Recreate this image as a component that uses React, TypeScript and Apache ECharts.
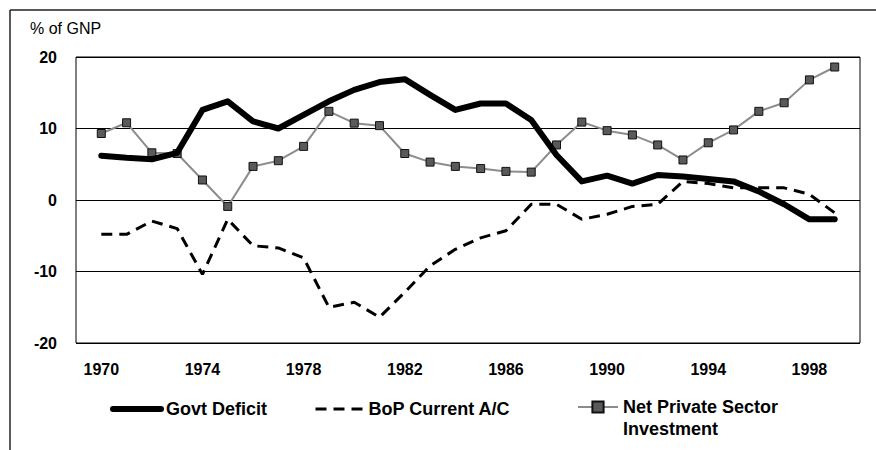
import React, { useEffect, useRef } from "react";
import * as echarts from "echarts";

const years = [
  1970, 1971, 1972, 1973, 1974, 1975, 1976, 1977, 1978, 1979,
  1980, 1981, 1982, 1983, 1984, 1985, 1986, 1987, 1988, 1989,
  1990, 1991, 1992, 1993, 1994, 1995, 1996, 1997, 1998, 1999,
];

const govtDeficit = [
  6.2, 5.9, 5.7, 6.6, 12.6, 13.8, 11.0, 10.0, 11.9, 13.8,
  15.4, 16.5, 16.9, 14.7, 12.6, 13.5, 13.5, 11.2, 6.3, 2.6,
  3.4, 2.3, 3.5, 3.3, 2.95, 2.6, 1.2, -0.6, -2.7, -2.7,
];

const bopCurrent = [
  -4.8, -4.8, -2.95, -4.0, -10.4, -2.7, -6.4, -6.7, -8.1, -15.0,
  -14.3, -16.4, -12.9, -9.2, -6.9, -5.3, -4.3, -0.6, -0.6, -2.7,
  -2.0, -0.9, -0.6, 2.6, 2.3, 1.7, 1.7, 1.7, 0.8, -1.8,
];

const netPrivateInvestment = [
  9.3, 10.8, 6.6, 6.5, 2.8, -0.9, 4.7, 5.5, 7.5, 12.4,
  10.75, 10.4, 6.5, 5.3, 4.7, 4.4, 4.0, 3.9, 7.7, 10.9,
  9.7, 9.1, 7.7, 5.6, 8.0, 9.8, 12.4, 13.6, 16.8, 18.6,
];

const yTicks = [-20, -10, 0, 10, 20];
const FONT = "'Liberation Sans', Arial, Helvetica, sans-serif";

const pairs = (vals: number[]) => years.map((y, i) => [y, vals[i]]);

export default function App() {
  const ref = useRef<HTMLDivElement>(null);
  useEffect(() => {
    if (!ref.current) return;
    const chart = echarts.init(ref.current, undefined, { renderer: "svg" });
    const legendText = { fontFamily: FONT, fontSize: 18, fontWeight: "bold", color: "#000" };
    chart.setOption({
      animation: false,
      backgroundColor: "#ffffff",
      textStyle: { fontFamily: FONT, color: "#000" },
      title: {
        text: "% of GNP",
        left: 30,
        top: 20,
        padding: 0,
        textStyle: { fontFamily: FONT, fontSize: 16, fontWeight: "normal", color: "#000" },
      },
      grid: {
        left: 76,
        right: 16,
        top: 57,
        bottom: 107,
        show: true,
        borderColor: "#000",
        borderWidth: 1,
        backgroundColor: "transparent",
      },
      xAxis: {
        type: "value",
        min: 1969,
        max: 2000,
        interval: 1,
        axisLine: { show: false },
        axisTick: { show: false },
        splitLine: { show: false },
        axisLabel: {
          margin: 18,
          fontFamily: FONT,
          fontSize: 16,
          fontWeight: "bold",
          color: "#000",
          formatter: (v: number) => ((v - 1970) % 4 === 0 && v >= 1970 && v <= 1998 ? String(v) : ""),
        },
      },
      yAxis: {
        type: "value",
        min: yTicks[0],
        max: yTicks[yTicks.length - 1],
        interval: 10,
        axisLine: { show: false },
        axisTick: { show: false },
        splitLine: { show: true, lineStyle: { color: "#000", width: 1 } },
        axisLabel: {
          margin: 19,
          fontFamily: FONT,
          fontSize: 16,
          fontWeight: "bold",
          color: "#000",
        },
      },
      legend: [
        {
          data: ["Govt Deficit"],
          left: 110,
          top: 400,
          padding: 0,
          itemWidth: 48,
          itemHeight: 14,
          lineStyle: { width: 6 },
          itemStyle: { opacity: 0 },
          textStyle: legendText,
        },
        {
          data: ["BoP Current A/C"],
          left: 314,
          top: 400,
          padding: 0,
          itemWidth: 48,
          itemHeight: 14,
          lineStyle: { width: 3 },
          itemStyle: { opacity: 0 },
          textStyle: legendText,
        },
        {
          data: ["Net Private Sector Investment"],
          left: 577,
          top: 374,
          padding: 0,
          itemWidth: 40,
          itemHeight: 14,
          lineStyle: { width: 2 },
          formatter: () => " \nNet Private Sector\nInvestment",
          textStyle: { ...legendText, lineHeight: 22 },
        },
      ],
      graphic: [
        { type: "line", shape: { x1: 10, y1: 10, x2: 876, y2: 10 }, style: { stroke: "#222", lineWidth: 1.5 } },
        { type: "line", shape: { x1: 10, y1: 10, x2: 10, y2: 450 }, style: { stroke: "#222", lineWidth: 1.5 } },
      ],
      series: [
        {
          name: "Net Private Sector Investment",
          type: "line",
          data: pairs(netPrivateInvestment),
          symbol: "rect",
          symbolSize: 8,
          z: 3,
          lineStyle: { color: "#8c8c8c", width: 2 },
          itemStyle: { color: "#5a5a5a", borderColor: "#111", borderWidth: 1 },
        },
        {
          name: "BoP Current A/C",
          type: "line",
          data: pairs(bopCurrent),
          symbol: "none",
          z: 2,
          lineStyle: { color: "#000", width: 3, type: [11, 7] },
          itemStyle: { color: "#000" },
        },
        {
          name: "Govt Deficit",
          type: "line",
          data: pairs(govtDeficit),
          symbol: "none",
          z: 4,
          lineStyle: { color: "#000", width: 6, join: "round", cap: "round" },
          itemStyle: { color: "#000" },
        },
      ],
    });
    return () => chart.dispose();
  }, []);
  return <div ref={ref} style={{ width: 876, height: 450, position: "absolute", left: 0, top: 0 }} />;
}
